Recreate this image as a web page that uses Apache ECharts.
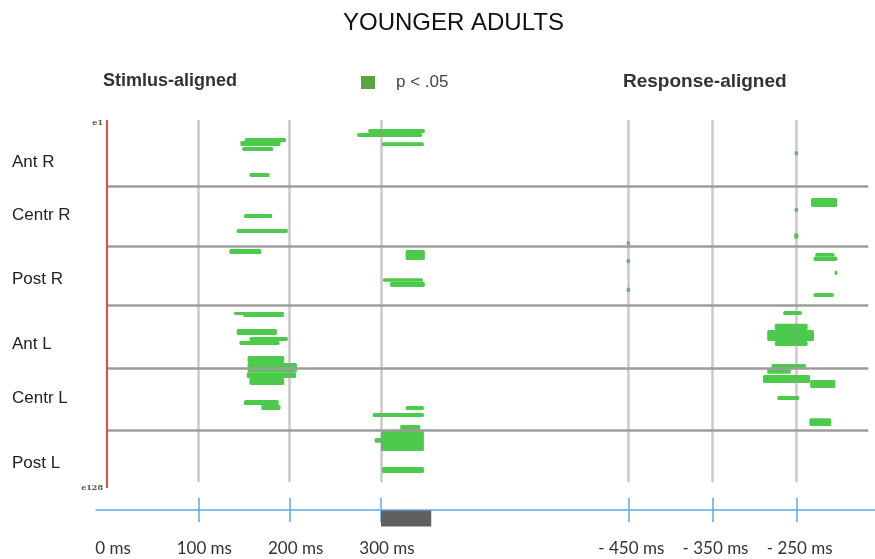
<!DOCTYPE html>
<html>
<head>
<meta charset="utf-8">
<script src="https://cdn.jsdelivr.net/npm/echarts@6/dist/echarts.min.js"></script>
<style>
  html, body { margin: 0; padding: 0; background: #ffffff; }
  #chart { width: 875px; height: 559px; }
</style>
</head>
<body>
<div id="chart"></div>
<script>
// Electrode groups (rows of the 128-channel montage, e1 at top)
const groupNames = ['Ant R', 'Centr R', 'Post R', 'Ant L', 'Centr L', 'Post L'];
const groupLabelRows = [14.6, 33, 55.3, 77.9, 96.7, 119.3];
const groupBoundaries = [23, 44, 64.5, 86.5, 108];
const electrodeLabels = [1, 128];
const electrodeCount = 128;

// Time axes (ms)
const stimTickLabels = [0, 100, 200, 300];
const stimGuides = [100, 200, 300];
const respTickLabels = [-450, -350, -250];
const respGuides = [-450, -350, -250];
const stimWindow = [[300, 355]];

// Significant spans, p < .05: [topRow, bottomRow, startMs, endMs]
const stimSpans = [
  // Ant R
  [6.3, 7.7, 151, 196],
  [7.3, 9.0, 146, 190],
  [9.4, 10.8, 148, 182],
  [18.4, 19.8, 156, 178],
  [3.1, 4.5, 286, 348],
  [4.5, 5.9, 274, 345],
  [7.7, 9.0, 301, 347],
  // Centr R
  [32.7, 34.1, 150, 181],
  [37.9, 39.3, 142, 198],
  // Post R
  [44.9, 46.6, 134, 169],
  [45.2, 48.7, 327, 348],
  [55.0, 56.3, 302, 346],
  [56.3, 58.1, 310, 348],
  // Ant L
  [66.8, 67.8, 139, 194],
  [67.8, 68.5, 149, 194],
  [72.7, 74.8, 142, 186],
  [75.5, 76.9, 156, 198],
  [76.9, 78.3, 145, 189],
  [82.1, 84.5, 154, 194],
  [84.5, 87.7, 154, 208],
  // Centr L
  [87.7, 89.7, 153, 207],
  [89.7, 92.2, 156, 194],
  [97.4, 99.1, 150, 188],
  [99.1, 100.9, 169, 190],
  [99.5, 100.9, 327, 347],
  [101.9, 103.3, 291, 347],
  // Post L
  [106.1, 107.8, 321, 343],
  [107.8, 115.1, 300, 347],
  [110.6, 112.3, 293, 320],
  [120.7, 122.8, 301, 347]
];

const respSpans = [
  // Ant R
  [10.8, 12.3, -252.5, -248.5],
  // Centr R
  [27.1, 30.3, -233, -202],
  [30.5, 32.0, -252.5, -248.5],
  [39.4, 41.3, -253, -248],
  [42.1, 43.6, -452, -448],
  // Post R
  [48.3, 49.8, -452, -448],
  [58.3, 59.8, -452, -448],
  [46.3, 47.5, -228, -205],
  [47.5, 49.0, -230, -202],
  [52.4, 53.9, -205, -201.5],
  [60.2, 61.6, -230, -206],
  // Ant L
  [66.4, 67.8, -266, -244],
  [70.9, 73.0, -276, -237],
  [73.0, 76.9, -285, -229.5],
  [76.9, 78.6, -276, -237],
  // Centr L
  [84.9, 86.3, -280, -239],
  [86.3, 88.3, -285, -257],
  [88.7, 91.5, -290, -234],
  [90.4, 93.2, -234, -204],
  [96.0, 97.4, -273, -247],
  [103.7, 106.4, -235, -209]
];

const SPAN_COLOR = '#4cca4c';
const LEGEND_COLOR = '#5aa63c';
const AXIS_BLUE = '#5aa9ee';
const AXIS_OFFSET = 22;
const GRID_TOP = 120;
const GRID_HEIGHT = 368;

const chart = echarts.init(document.getElementById('chart'), null, { renderer: 'canvas' });

function renderSpan(params, api) {
  const a = api.coord([api.value(2), api.value(0)]);
  const b = api.coord([api.value(3), api.value(1)]);
  return {
    type: 'rect',
    shape: { x: a[0], y: a[1], width: b[0] - a[0], height: b[1] - a[1], r: 1.5 },
    style: { fill: SPAN_COLOR }
  };
}

function renderWindow(params, api) {
  const a = api.coord([api.value(0), electrodeCount]);
  const b = api.coord([api.value(1), electrodeCount]);
  return {
    type: 'rect',
    shape: { x: a[0], y: a[1] + AXIS_OFFSET + 0.5, width: b[0] - a[0], height: 16 },
    style: { fill: '#606060' }
  };
}

function msLabel(v) {
  return v < 0 ? '- ' + Math.abs(v) + ' ms' : v + ' ms';
}

const tickLine = { color: AXIS_BLUE, width: 1.5 };
const labelStyle = { fontFamily: 'Lato', fontSize: 17, color: '#333333', margin: 30 };

// Main time axis below the grid, plus a companion axis drawn at the same
// height whose ticks point upward so each tick crosses the axis line.
function timeAxes(gridIndex, min, max, guides, labels, labelPad) {
  return [
    {
      gridIndex, type: 'value', min, max, position: 'bottom', offset: AXIS_OFFSET,
      axisLine: { show: true, onZero: false, lineStyle: { color: AXIS_BLUE, width: 1.5 } },
      axisTick: { show: true, customValues: guides, length: 12, lineStyle: tickLine },
      axisLabel: Object.assign({ customValues: labels, formatter: msLabel, padding: labelPad }, labelStyle),
      splitLine: { show: false }
    },
    {
      gridIndex, type: 'value', min, max, position: 'top', offset: -(GRID_HEIGHT + AXIS_OFFSET),
      axisLine: { show: false, onZero: false },
      axisTick: { show: true, inside: false, customValues: guides, length: 12, lineStyle: tickLine },
      axisLabel: { show: false },
      splitLine: { show: false }
    }
  ];
}

function rowAxis(gridIndex, extra) {
  return Object.assign({
    gridIndex, type: 'value', min: 0, max: electrodeCount, inverse: true, position: 'left',
    axisLine: { show: false, onZero: false }, axisTick: { show: false }, splitLine: { show: false },
    axisLabel: { show: false }
  }, extra);
}

function segment(x0, x1, y0, y1, style) {
  return [{ coord: [x0, y0], lineStyle: style }, { coord: [x1, y1] }];
}

const sepStyle = { color: '#9c9c9c', width: 2.5, type: 'solid' };
const guideStyle = { color: 'rgba(150,150,150,0.5)', width: 2.5, type: 'solid' };
const zeroStyle = { color: '#f2463a', width: 2, type: 'solid' };

const stimLines = [];
stimGuides.forEach(t => stimLines.push(segment(t, t, 0, 126, guideStyle)));
groupBoundaries.forEach(r => stimLines.push(segment(0, 450, r, r, sepStyle)));
stimLines.push(segment(0, 0, 0, electrodeCount, zeroStyle));

const respLines = [];
respGuides.forEach(t => respLines.push(segment(t, t, 0, 126, guideStyle)));
groupBoundaries.forEach(r => respLines.push(segment(-581, -165, r, r, sepStyle)));

const option = {
  animation: false,
  backgroundColor: '#ffffff',
  title: [
    { text: 'YOUNGER ADULTS', left: 343, top: 11, padding: 0,
      textStyle: { fontFamily: 'Liberation Sans', fontSize: 24, fontWeight: 'normal', color: '#111111' } },
    { text: 'Stimlus-aligned', left: 103, top: 72, padding: 0,
      textStyle: { fontFamily: 'Liberation Sans', fontSize: 18, fontWeight: 'bold', color: '#333333' } },
    { text: 'Response-aligned', left: 623, top: 72, padding: 0,
      textStyle: { fontFamily: 'Liberation Sans', fontSize: 19, fontWeight: 'bold', color: '#333333' } }
  ],
  legend: {
    left: 361, top: 73, padding: 0,
    itemWidth: 14, itemHeight: 13, icon: 'rect',
    data: [{ name: 'p < .05', itemStyle: { color: LEGEND_COLOR } }],
    textStyle: { fontFamily: 'Liberation Sans', fontSize: 17, color: '#444444', lineHeight: 19, padding: [0, 0, 0, 16] }
  },
  grid: [
    { left: 96, top: GRID_TOP, width: 422, height: GRID_HEIGHT },
    { left: 518, top: GRID_TOP, width: 357, height: GRID_HEIGHT }
  ],
  xAxis: [
    ...timeAxes(0, -12, 450, stimGuides, stimTickLabels, [0, 0, 0, 12]),
    ...timeAxes(1, -581, -157, respGuides, respTickLabels, [0, 0, 0, 6])
  ],
  yAxis: [
    rowAxis(0, {
      axisLabel: {
        show: true, customValues: electrodeLabels, formatter: v => 'e' + v, margin: -7,
        fontFamily: 'DejaVu Serif', fontSize: 8, fontWeight: 'bold', color: '#555555'
      }
    }),
    rowAxis(0, {
      axisLabel: {
        show: true, customValues: groupLabelRows, align: 'left', margin: 84,
        formatter: v => groupNames[groupLabelRows.indexOf(v)],
        fontFamily: 'Liberation Sans', fontSize: 17, color: '#222222'
      }
    }),
    rowAxis(1, {})
  ],
  series: [
    {
      name: 'p < .05', type: 'custom', xAxisIndex: 0, yAxisIndex: 0, z: 2,
      renderItem: renderSpan, data: stimSpans,
      dimensions: ['top', 'bottom', 'start', 'end'],
      encode: { x: [2, 3], y: [0, 1] }, itemStyle: { color: LEGEND_COLOR }
    },
    {
      name: 'p < .05', type: 'custom', xAxisIndex: 2, yAxisIndex: 2, z: 2,
      renderItem: renderSpan, data: respSpans,
      dimensions: ['top', 'bottom', 'start', 'end'],
      encode: { x: [2, 3], y: [0, 1] }, itemStyle: { color: LEGEND_COLOR }
    },
    {
      name: 'window', type: 'custom', xAxisIndex: 0, yAxisIndex: 0, z: 2, clip: false,
      renderItem: renderWindow, data: stimWindow,
      encode: { x: [0, 1] }
    },
    {
      name: 'stimGuides', type: 'line', xAxisIndex: 0, yAxisIndex: 0, z: 4, data: [],
      markLine: { silent: true, symbol: 'none', label: { show: false }, data: stimLines }
    },
    {
      name: 'respGuides', type: 'line', xAxisIndex: 2, yAxisIndex: 2, z: 4, data: [],
      markLine: { silent: true, symbol: 'none', label: { show: false }, data: respLines }
    }
  ]
};

chart.setOption(option);
</script>
</body>
</html>
